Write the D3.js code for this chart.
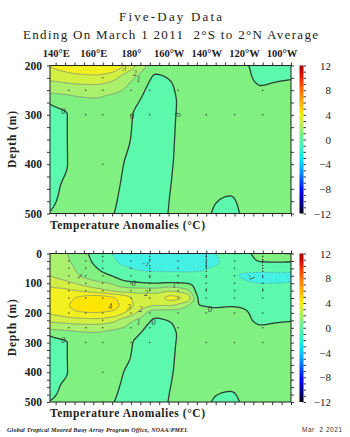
<!DOCTYPE html>
<html><head><meta charset="utf-8">
<script src="https://cdn.jsdelivr.net/npm/d3@7"></script>
<style>body{margin:0;background:#fff}svg{display:block}</style>
</head><body>
<svg id="c" width="350" height="437"></svg>
<script>
// ---- data (temperature anomaly, deg C) ----
const lons   = [137,145,153,161,169,177,185,193,201,209,217,225,233,241,249,257,265];
const depths = [0,25,50,75,100,125,150,175,200,225,250,275,300,350,400,450,500];
const t000 = [1.3,1.05,0.5,-0.4,-0.95,-1.3,-1.5,-1.5,-1.4,-1.3,-1.2,-1.0,-0.7,-0.2,0.4,0.8,1.2];
const t025 = [1.4,1.15,0.6,-0.2,-0.8,-1.2,-1.4,-1.45,-1.4,-1.3,-1.2,-1.05,-0.8,-0.4,0.05,0.1,0.1];
const t050 = [1.6,1.35,0.75,0.1,-0.5,-0.9,-1.1,-1.15,-1.15,-1.1,-1.05,-0.95,-0.9,-0.8,-0.6,-0.5,-0.5];
const t075 = [2.0,1.6,1.0,0.5,0.05,-0.5,-0.7,-0.75,-0.75,-0.85,-0.9,-0.85,-0.95,-1.05,-1.2,-1.25,-1.25];
const t100 = [2.6,2.3,1.8,1.3,0.95,0.3,0.1,0.0,0.1,0.0,-0.4,-0.6,-0.8,-0.95,-1.0,-1.0,-0.95];
const t125 = [3.3,3.2,2.9,2.5,2.0,1.6,1.5,1.5,1.9,1.3,-0.5,-0.6,-0.7,-0.75,-0.75,-0.75,-0.75];
const t150 = [3.5,3.7,4.15,4.5,4.2,3.4,2.6,2.6,3.2,2.8,-0.3,-0.5,-0.5,-0.5,-0.5,-0.5,-0.5];
const t175 = [3.8,3.9,4.35,4.6,4.4,3.6,2.5,2.0,2.0,1.2,0.0,-0.1,-0.05,-0.1,-0.3,-0.3,-0.3];
const t200 = [3.1,3.5,3.9,3.95,3.8,2.9,1.6,0.4,0.5,0.5,0.4,0.2,0.2,0.05,-0.25,-0.3,-0.3];
const t225 = [2.2,2.4,2.6,2.7,2.4,1.5,0.7,-0.1,0.05,0.3,0.4,0.35,0.3,0.15,-0.15,-0.1,-0.05];
const t250 = [1.3,1.4,1.5,1.5,1.3,0.9,0.2,-0.3,-0.1,0.3,0.4,0.4,0.35,0.3,0.1,0.2,0.3];
const t275 = [0.05,0.35,0.7,0.8,0.6,0.4,-0.05,-0.4,-0.2,0.3,0.4,0.4,0.35,0.35,0.3,0.35,0.35];
const t300 = [-0.2,-0.05,0.4,0.5,0.4,0.2,-0.2,-0.4,-0.15,0.25,0.35,0.35,0.35,0.35,0.35,0.35,0.35];
const t350 = [-0.3,-0.05,0.3,0.4,0.3,0.1,-0.2,-0.35,-0.1,0.25,0.3,0.3,0.3,0.3,0.3,0.3,0.3];
const t400 = [-0.3,-0.05,0.25,0.35,0.25,-0.03,-0.25,-0.35,-0.05,0.2,0.25,0.2,0.18,0.25,0.25,0.25,0.25];
const t450 = [-0.2,0.1,0.3,0.3,0.15,-0.1,-0.3,-0.3,0.0,0.2,0.12,0.05,0.035,0.12,0.2,0.2,0.2];
const t500 = [0.02,0.15,0.25,0.2,0.05,-0.15,-0.3,-0.3,0.05,0.2,0.1,-0.03,-0.08,0.08,0.2,0.2,0.2];
const anomalies = [t000,t025,t050,t075,t100,t125,t150,t175,t200,t225,t250,t275,t300,t350,t400,t450,t500];

const levels = [-2,-1,0,1,2,3,4,5];
const lonTicks = [140,160,180,200,220,240,260];
const cbarTicks = [12,8,4,0,-4,-8,-12];

// sensor positions (dots)
const buoyLons = [147,156,165,180,190,205,220,235,250];
const buoyDepths = [
  [25,50,75,100,125,150,200,250],
  [1,25,50,75,100,125,150,200,250,300],
  [1,10,25,50,75,100,125,150,200,225,250,300,400,500],
  [1,25,50,75,100,125,150,200,250,300],
  [1,10,20,25,40,50,60,75,80,100,120,125,150,200,250,300],
  [1,25,50,75,100,125,150,200,250],
  [1,5,10,13,20,25,30,35,40,45,50,60,75,80,100,120,125,150,200,300],
  [1,25,50,75,100,125,150,200,300],
  [1,10,20,25,30,40,50,60,75,80,100,120,125,150,200,250,300]
];

// contour labels [text, lon, depth, rotation]
const topLabels = [["3",176.5,205,0],["2",182,215,0],["1",184,228,0],["0",144,292,0],["0",180.5,302,0],["0",205,300,-90]];
const botLabels = [["1",153,76,35],["0",181.5,99,0],["-1",188,34,20],["4",169,178,0],["3",179,181,0],["2",185,188,0],
                   ["2",188,135,0],["1",203,106,0],["1",184,230,0],["0",192,231,0],["0",144,292,0],["0",222,186,0],["-1",244,79,60]];

// ---- styles ----
const bandColors = ["#20E4F0","#44F0E4","#5CF8AC","#80F080","#AAF06C","#D2F044","#F2F020","#FFE600","#FFC000"];
const X0 = 50, X1 = 291;
const svg = d3.select("#c");
const x = d3.scaleLinear().domain([137,265]).range([X0,X1]);

function monotone(xs, ys){
  const n = xs.length, h = [], d = [], m = new Array(n);
  for (let k=0;k<n-1;k++){ h[k]=xs[k+1]-xs[k]; d[k]=(ys[k+1]-ys[k])/h[k]; }
  m[0]=d[0]; m[n-1]=d[n-2];
  for (let k=1;k<n-1;k++){
    if (d[k-1]*d[k] <= 0) m[k]=0;
    else { const w1=2*h[k]+h[k-1], w2=h[k]+2*h[k-1]; m[k]=(w1+w2)/(w1/d[k-1]+w2/d[k]); }
  }
  return v => {
    if (v<=xs[0]) return ys[0];
    if (v>=xs[n-1]) return ys[n-1];
    let k = d3.bisectRight(xs, v)-1; if (k>n-2) k=n-2;
    const t=(v-xs[k])/h[k], t2=t*t, t3=t2*t;
    return (2*t3-3*t2+1)*ys[k] + (t3-2*t2+t)*h[k]*m[k] + (-2*t3+3*t2)*ys[k+1] + (t3-t2)*h[k]*m[k+1];
  };
}
const colFns = lons.map((lon,k) => monotone(depths, anomalies.map(r => r[k])));

function lonFmt(l){ if (l<180) return l+"°E"; if (l===180) return "180°"; return (360-l)+"°W"; }

const defs = svg.append("defs");
const grad = defs.append("linearGradient").attr("id","cbar").attr("x1",0).attr("y1",1).attr("x2",0).attr("y2",0);
const cstops = [[-12,"#000000"],[-11,"#000060"],[-10,"#0000A0"],[-9,"#0000E0"],[-8,"#0010FF"],[-7,"#0040FF"],[-6,"#0070FF"],
  [-5,"#00A0FF"],[-4,"#00C8FF"],[-3,"#00E8F0"],[-2,"#20F0D0"],[-1,"#40F0B8"],[0,"#60F0A0"],[1,"#80F080"],[2,"#A8F060"],
  [3,"#D0F040"],[4,"#F4F000"],[5,"#FFD000"],[6,"#FFB000"],[7,"#FF9000"],[8,"#FF7000"],[9,"#FF4800"],[10,"#F02000"],[11,"#D00000"],[12,"#A00000"]];
cstops.forEach(s => grad.append("stop").attr("offset",((s[0]+12)/24*100)+"%").attr("stop-color",s[1]));

const panels = [
  {y0:65.5, y1:213.5, dmin:200, dmax:500, ticks:[200,300,400,500], labels:topLabels, tempY:228.8},
  {y0:253.5, y1:402, dmin:0, dmax:500, ticks:[0,100,200,300,400,500], labels:botLabels, tempY:417}
];

const serif = "'Liberation Serif','DejaVu Serif',serif";

panels.forEach((p,pi) => {
  const y = d3.scaleLinear().domain([p.dmin,p.dmax]).range([p.y0,p.y1]);
  const pad = 3;
  const nx0 = Math.round(X1-X0), ny0 = Math.round(p.y1-p.y0);
  const sx = (X1-X0)/nx0, sy = (p.y1-p.y0)/ny0;
  const nx = nx0+2*pad, ny = ny0+2*pad;
  const vals = new Float64Array(nx*ny);
  for (let j=0;j<ny;j++){
    const py = p.y0 + (j-pad+0.5)*sy;
    const dep = Math.max(p.dmin, Math.min(p.dmax, y.invert(py)));
    const rowFn = monotone(lons, colFns.map(f => f(dep)));
    for (let i=0;i<nx;i++){
      const px = X0 + (i-pad+0.5)*sx;
      const lon = Math.max(137, Math.min(265, x.invert(px)));
      vals[j*nx+i] = rowFn(lon);
    }
  }
  const contours = d3.contours().size([nx,ny]).thresholds(levels)(vals);
  const proj = d3.geoTransform({point(cx,cy){ this.stream.point(X0+(cx-pad)*sx, p.y0+(cy-pad)*sy); }});
  const path = d3.geoPath(proj);

  defs.append("clipPath").attr("id","clip"+pi).append("rect")
    .attr("x",X0).attr("y",p.y0).attr("width",X1-X0).attr("height",p.y1-p.y0);
  const g = svg.append("g").attr("clip-path","url(#clip"+pi+")");
  g.append("rect").attr("x",X0).attr("y",p.y0).attr("width",X1-X0).attr("height",p.y1-p.y0).attr("fill",bandColors[0]);
  g.selectAll("path.fill").data(contours).join("path").attr("class","fill")
    .attr("d",path).attr("fill",(c,i)=>bandColors[i+1]).attr("stroke","none");
  g.selectAll("path.line").data(contours).join("path").attr("class","line")
    .attr("d",path).attr("fill","none")
    .attr("stroke",c => c.value===0 ? "#2b4236" : (c.value>0 ? "#7f8f7c" : "#5e9c9c"))
    .attr("stroke-width",c => c.value===0 ? 1.3 : 0.8)
    .attr("stroke-dasharray",c => c.value<0 ? "2,1.6" : null);

  buoyLons.forEach((lon,k) => {
    g.selectAll(null).data(buoyDepths[k].filter(d => d>=p.dmin && d<=p.dmax)).join("circle")
      .attr("cx",x(lon)).attr("cy",d=>y(d)).attr("r",0.75).attr("fill","#3a3a3a");
  });

  g.selectAll("text.cl").data(p.labels).join("text").attr("class","cl")
    .attr("transform",d=>`translate(${x(d[1])},${y(d[2])}) rotate(${d[3]})`)
    .attr("text-anchor","middle").attr("dy","0.35em")
    .attr("font-family",serif).attr("font-style","italic").attr("font-size",8)
    .attr("fill",d => d[0]==="0" ? "#2b4236" : "#555").text(d=>d[0]);

  svg.append("rect").attr("x",X0).attr("y",p.y0).attr("width",X1-X0).attr("height",p.y1-p.y0)
    .attr("fill","none").attr("stroke","#222").attr("stroke-width",1);

  const tk = (sel) => { sel.select(".domain").remove(); sel.selectAll("line").attr("stroke","#333"); };
  svg.append("g").attr("transform",`translate(0,${p.y1})`)
    .call(d3.axisBottom(x).tickValues(d3.range(140,266,5)).tickSize(3).tickFormat("")).call(tk);
  svg.append("g").attr("transform",`translate(0,${p.y0})`)
    .call(d3.axisTop(x).tickValues(d3.range(140,266,5)).tickSize(3).tickFormat("")).call(tk);
  svg.append("g").attr("transform",`translate(${X0},0)`)
    .call(d3.axisLeft(y).tickValues(d3.range(p.dmin,p.dmax+1,25)).tickSize(3).tickFormat("")).call(tk);
  svg.append("g").attr("transform",`translate(${X1},0)`)
    .call(d3.axisRight(y).tickValues(d3.range(p.dmin,p.dmax+1,25)).tickSize(3).tickFormat("")).call(tk);

  const ya = svg.append("g").attr("transform",`translate(${X0},0)`)
    .call(d3.axisLeft(y).tickValues(p.ticks).tickSize(0).tickPadding(8).tickFormat(d3.format("d")));
  ya.select(".domain").remove();
  ya.selectAll("text").attr("font-family",serif).attr("font-weight","bold").attr("font-size",11.5).attr("fill","#222");

  svg.append("text").attr("transform",`translate(16,${(p.y0+p.y1)/2}) rotate(-90)`)
    .attr("text-anchor","middle").attr("font-family",serif).attr("font-weight","bold").attr("font-size",11.5)
    .attr("fill","#222").attr("textLength",57).attr("lengthAdjust","spacing").text("Depth (m)");

  svg.append("text").attr("x",50).attr("y",p.tempY).attr("font-family",serif).attr("font-weight","bold")
    .attr("font-size",11.5).attr("fill","#222").attr("textLength",155).attr("lengthAdjust","spacing")
    .text("Temperature Anomalies (°C)");

  const cy = d3.scaleLinear().domain([-12,12]).range([p.y1,p.y0]);
  svg.append("rect").attr("x",299.5).attr("y",p.y0).attr("width",4).attr("height",p.y1-p.y0).attr("fill","url(#cbar)");
  svg.append("g").attr("transform","translate(303.5,0)")
    .call(d3.axisRight(cy).tickValues(d3.range(-12,13,1)).tickSize(2.5).tickFormat("")).call(tk);
  const ca = svg.append("g").attr("transform","translate(303.5,0)")
    .call(d3.axisRight(cy).tickValues(cbarTicks).tickSize(0).tickFormat(v => v<0 ? "\u2212"+Math.abs(v) : String(v)));
  ca.select(".domain").remove();
  ca.selectAll("text").attr("x",27.5).attr("text-anchor","end").attr("font-family",serif)
    .attr("font-size",11).attr("fill","#222");
});

const la = svg.append("g").attr("transform",`translate(0,${panels[0].y0})`)
  .call(d3.axisTop(x).tickValues(lonTicks).tickSize(0).tickPadding(9).tickFormat(lonFmt));
la.select(".domain").remove();
la.selectAll("text").attr("font-family",serif).attr("font-weight","bold").attr("font-size",10.5).attr("fill","#222");

svg.append("text").attr("x",170.5).attr("y",21).attr("text-anchor","middle").attr("font-family",serif)
  .attr("font-size",13).attr("fill","#222").attr("textLength",103).attr("lengthAdjust","spacing").text("Five-Day Data");
svg.append("text").attr("x",170.5).attr("y",39.3).attr("text-anchor","middle").attr("font-family",serif)
  .attr("font-size",13).attr("fill","#222").attr("textLength",295).attr("lengthAdjust","spacing")
  .text("Ending On March 1 2011 \u00a02°S to 2°N Average");

svg.append("text").attr("x",7).attr("y",432).attr("font-family",serif).attr("font-style","italic").attr("font-weight","bold")
  .attr("font-size",6).attr("fill","#222").attr("textLength",181).attr("lengthAdjust","spacing")
  .text("Global Tropical Moored Buoy Array Program Office, NOAA/PMEL");
svg.append("text").attr("x",302).attr("y",432).attr("font-family","'Liberation Sans',Arial,sans-serif")
  .attr("font-size",6.5).attr("fill","#333").attr("textLength",40).attr("lengthAdjust","spacing")
  .text("Mar \u00a02 2021");
</script>
</body></html>
